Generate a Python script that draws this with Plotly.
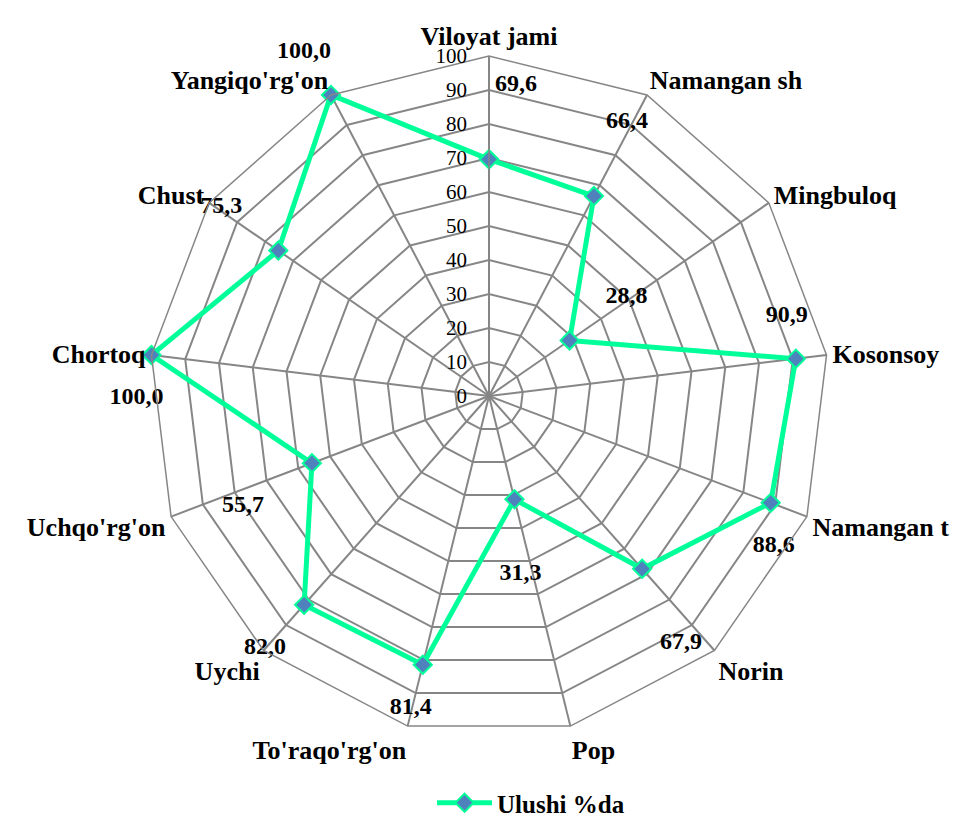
import plotly.graph_objects as go

categories = ["Viloyat jami", "Namangan sh", "Mingbuloq", "Kosonsoy", "Namangan t",
              "Norin", "Pop", "To'raqo'rg'on", "Uychi", "Uchqo'rg'on",
              "Chortoq", "Chust", "Yangiqo'rg'on"]
values = [69.6, 66.4, 28.8, 90.9, 88.6, 67.9, 31.3, 81.4, 82.0, 55.7, 100.0, 75.3, 100.0]
series_name = "Ulushi %da"
tick_vals = list(range(0, 101, 10))

# label placement styling: position, blank lines (spacing), nbsp padding (lead, trail)
label_pos = ["top right", "top right", "top right", "top center", "bottom center",
             "bottom right", "bottom center", "bottom center", "bottom left",
             "bottom left", "bottom center", "top left", "top left"]
label_gap = [2, 2, 1, 1, 1, 2, 2, 1, 1, 1, 1, 1, 1]
label_lead = [1, 2, 6, 0, 1, 3, 2, 0, 0, 0, 0, 0, 0]
label_trail = [0, 0, 0, 3, 0, 0, 0, 4, 3, 8, 5, 6, 0]

NB = "\u00a0"
label_text = []
for v, pos, g, a, b in zip(values, label_pos, label_gap, label_lead, label_trail):
    s = NB * a + f"{v:.1f}".replace(".", ",") + NB * b
    blank = "<br>".join([NB] * g)
    if g:
        s = (s + "<br>" + blank) if pos.startswith("top") else (blank + "<br>" + s)
    label_text.append(s)

theta = categories + [categories[0]]
r = values + [values[0]]

fig = go.Figure()
fig.add_trace(go.Scatterpolar(
    r=r, theta=theta, mode="lines+markers", name=series_name,
    line=dict(color="#00FF99", width=5),
    marker=dict(symbol="diamond", size=14, color="#4F81BD",
                line=dict(color="#00FF99", width=2)),
    showlegend=True,
))
fig.add_trace(go.Scatterpolar(
    r=values, theta=categories, mode="text", text=label_text,
    textposition=label_pos,
    textfont=dict(family="Liberation Serif", size=24, color="black", weight="bold"),
    showlegend=False, hoverinfo="skip",
))

fig.update_layout(
    width=965, height=818,
    margin=dict(l=0, r=0, t=0, b=0),
    paper_bgcolor="white", plot_bgcolor="white",
    font=dict(family="Liberation Serif", color="black"),
    polar=dict(
        domain=dict(x=[141/965, 821/965], y=[1-728/818, 1-48/818]),
        bgcolor="white",
        gridshape="linear",
        angularaxis=dict(
            rotation=90, direction="clockwise",
            showline=True, linecolor="#868686", linewidth=1.5,
            gridcolor="#868686", gridwidth=1.5,
            tickfont=dict(family="Liberation Serif", size=26, color="black", weight="bold"),
            ticks="",
        ),
        radialaxis=dict(
            range=[0, 100], tickvals=tick_vals, ticktext=[str(t) for t in tick_vals],
            angle=90, tickangle=90, side="counterclockwise",
            showline=True, linecolor="#868686", linewidth=1.5,
            gridcolor="#868686", gridwidth=1.5,
            tickfont=dict(family="Liberation Serif", size=21, color="black"),
            ticks="outside", ticklen=14, tickcolor="rgba(0,0,0,0)",
        ),
    ),
    legend=dict(orientation="h", x=0.542, xanchor="center", y=0.0, yanchor="bottom",
                itemwidth=55,
                font=dict(family="Liberation Serif", size=25, color="black", weight="bold")),
)

fig.write_html("out.html")
